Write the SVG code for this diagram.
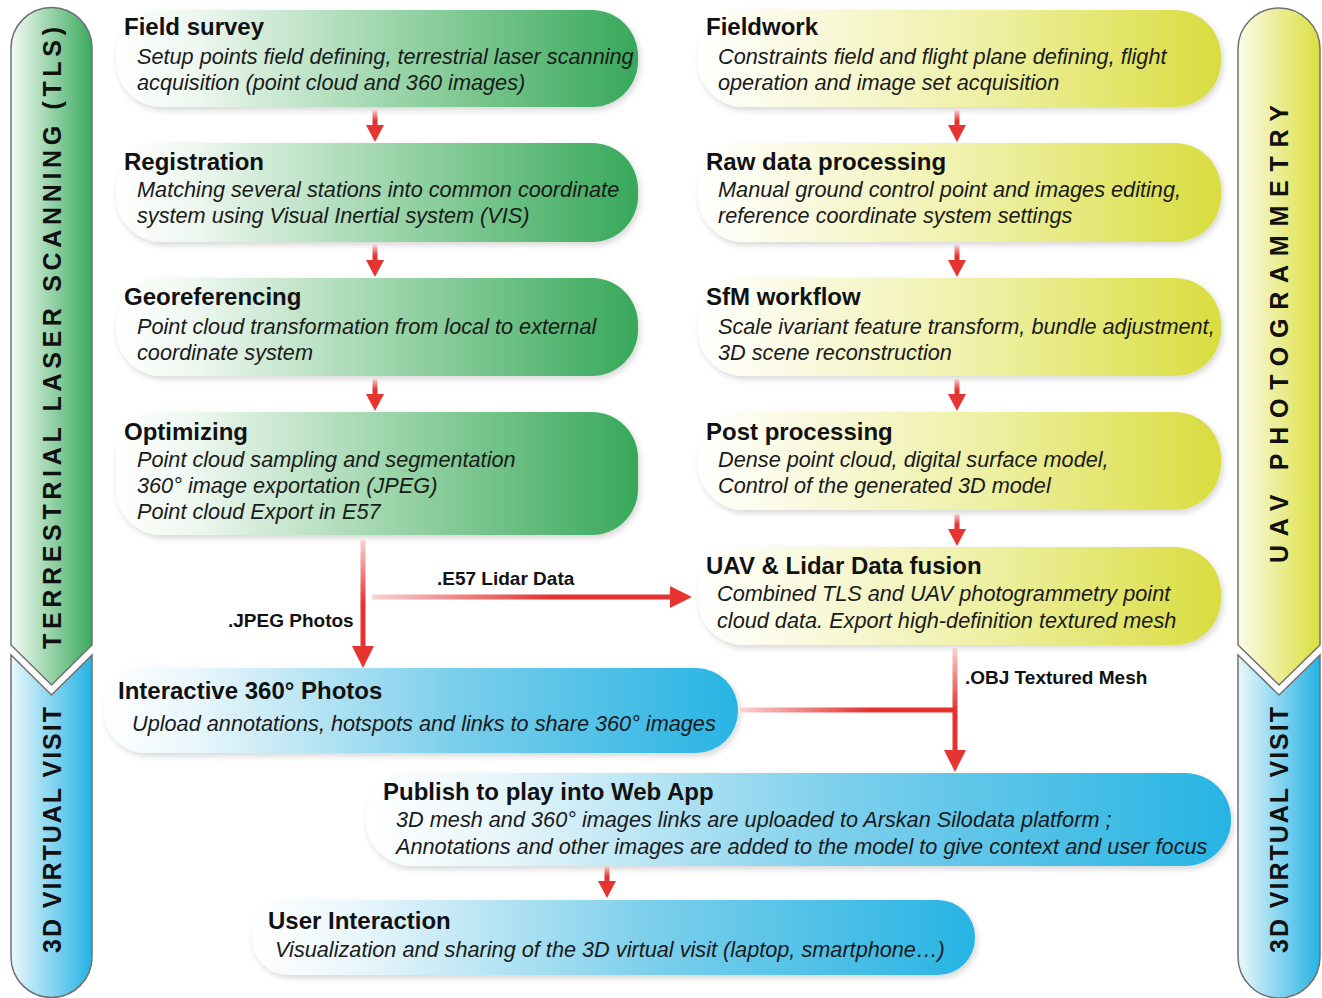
<svg xmlns="http://www.w3.org/2000/svg" width="1322" height="998" viewBox="0 0 1322 998">
<defs>
  <style>
    .title{font-family:"Liberation Sans",Arial,sans-serif;font-weight:bold;font-size:24px;fill:#111}
    .sub{font-family:"Liberation Sans",Arial,sans-serif;font-style:italic;font-size:21.7px;fill:#1a1a1a}
    .lbl{font-family:"Liberation Sans",Arial,sans-serif;font-weight:bold;font-size:19px;fill:#111}
    .bar{font-family:"Liberation Sans",Arial,sans-serif;font-weight:bold;font-size:25px;fill:#111}
    .barshape{stroke:#707070;stroke-width:1.5}
    .red{fill:#e53431}
  </style>
  <linearGradient id="gGreen" x1="0" y1="0" x2="1" y2="0">
    <stop offset="0" stop-color="#ffffff"/>
    <stop offset="0.15" stop-color="#eef7f0"/>
    <stop offset="0.55" stop-color="#97d3a6"/>
    <stop offset="1" stop-color="#37a85a"/>
  </linearGradient>
  <linearGradient id="gYellow" x1="0" y1="0" x2="1" y2="0">
    <stop offset="0" stop-color="#ffffff"/>
    <stop offset="0.15" stop-color="#fbfbe8"/>
    <stop offset="0.55" stop-color="#eef0a4"/>
    <stop offset="1" stop-color="#d9dd3e"/>
  </linearGradient>
  <linearGradient id="gBlue" x1="0" y1="0" x2="1" y2="0">
    <stop offset="0" stop-color="#ffffff"/>
    <stop offset="0.15" stop-color="#e8f6fb"/>
    <stop offset="0.55" stop-color="#7ccfeb"/>
    <stop offset="1" stop-color="#27b4e4"/>
  </linearGradient>
  <linearGradient id="bGreen" x1="0" y1="0" x2="1" y2="0">
    <stop offset="0" stop-color="#f3faf4"/>
    <stop offset="1" stop-color="#3aaa5d"/>
  </linearGradient>
  <linearGradient id="bYellow" x1="0" y1="0" x2="1" y2="0">
    <stop offset="0" stop-color="#fbfbe8"/>
    <stop offset="1" stop-color="#dcdf3f"/>
  </linearGradient>
  <linearGradient id="bBlue" x1="0" y1="0" x2="1" y2="0">
    <stop offset="0" stop-color="#eaf7fc"/>
    <stop offset="1" stop-color="#25b3e4"/>
  </linearGradient>
  <linearGradient id="vShaft" x1="0" y1="0" x2="0" y2="1">
    <stop offset="0" stop-color="#f8d2d0"/>
    <stop offset="0.6" stop-color="#e5322f"/>
    <stop offset="1" stop-color="#e5322f"/>
  </linearGradient>
  <linearGradient id="hShaft" x1="0" y1="0" x2="1" y2="0">
    <stop offset="0" stop-color="#f8d2d0"/>
    <stop offset="0.6" stop-color="#e5322f"/>
    <stop offset="1" stop-color="#e5322f"/>
  </linearGradient>
  <filter id="shadow" x="-5%" y="-10%" width="110%" height="130%">
    <feDropShadow dx="2" dy="3" stdDeviation="3" flood-color="#000" flood-opacity="0.16"/>
  </filter>
  <g id="smallArrow">
    <rect x="-2.5" y="0" width="5" height="18" fill="url(#vShaft)"/>
    <polygon points="-9,15 9,15 0,32" class="red"/>
  </g>
</defs>

<rect width="1322" height="998" fill="#ffffff"/>

<!-- Side bars -->
<g id="bar-tls">
  <path class="barshape" d="M11,48 A40.5,40.5 0 0 1 92,48 L92,645 L51.5,685 L11,645 Z" fill="url(#bGreen)"/>
  <text class="bar" text-anchor="middle" transform="translate(51.5,338) rotate(-90)" y="9" textLength="622" lengthAdjust="spacing">TERRESTRIAL LASER SCANNING (TLS)</text>
</g>
<g id="bar-visit-left">
  <path class="barshape" d="M11,655 L51.5,695 L92,655 L92,957 A40.5,40.5 0 0 1 11,957 Z" fill="url(#bBlue)"/>
  <text class="bar" text-anchor="middle" transform="translate(51.5,830) rotate(-90)" y="9" textLength="246" lengthAdjust="spacing">3D VIRTUAL VISIT</text>
</g>
<g id="bar-uav">
  <path class="barshape" d="M1238,49 A41,41 0 0 1 1320,49 L1320,645 L1279,685 L1238,645 Z" fill="url(#bYellow)"/>
  <text class="bar" text-anchor="middle" transform="translate(1279,334) rotate(-90)" y="9" textLength="458" lengthAdjust="spacing">UAV PHOTOGRAMMETRY</text>
</g>
<g id="bar-visit-right">
  <path class="barshape" d="M1238,655 L1279,695 L1320,655 L1320,957 A41,41 0 0 1 1238,957 Z" fill="url(#bBlue)"/>
  <text class="bar" text-anchor="middle" transform="translate(1279,830) rotate(-90)" y="9" textLength="246" lengthAdjust="spacing">3D VIRTUAL VISIT</text>
</g>

<!-- Left column -->
<g id="field-survey">
  <rect x="116" y="10" width="522" height="97" rx="46" fill="url(#gGreen)" filter="url(#shadow)"/>
  <text class="title" x="124" y="35">Field survey</text>
  <text class="sub" x="137" y="64">Setup points field defining, terrestrial laser scanning</text>
  <text class="sub" x="137" y="90">acquisition (point cloud and 360 images)</text>
</g>
<g id="registration">
  <rect x="116" y="143" width="522" height="99" rx="46" fill="url(#gGreen)" filter="url(#shadow)"/>
  <text class="title" x="124" y="170">Registration</text>
  <text class="sub" x="137" y="197">Matching several stations into common coordinate</text>
  <text class="sub" x="137" y="223">system using Visual Inertial system (VIS)</text>
</g>
<g id="georeferencing">
  <rect x="116" y="278" width="522" height="98" rx="46" fill="url(#gGreen)" filter="url(#shadow)"/>
  <text class="title" x="124" y="305">Georeferencing</text>
  <text class="sub" x="137" y="334">Point cloud transformation from local to external</text>
  <text class="sub" x="137" y="360">coordinate system</text>
</g>
<g id="optimizing">
  <rect x="116" y="412" width="522" height="123" rx="46" fill="url(#gGreen)" filter="url(#shadow)"/>
  <text class="title" x="124" y="440">Optimizing</text>
  <text class="sub" x="137" y="467">Point cloud sampling and segmentation</text>
  <text class="sub" x="137" y="493">360° image exportation (JPEG)</text>
  <text class="sub" x="137" y="519">Point cloud Export in E57</text>
</g>

<!-- Right column -->
<g id="fieldwork">
  <rect x="698" y="10" width="523" height="97" rx="46" fill="url(#gYellow)" filter="url(#shadow)"/>
  <text class="title" x="706" y="35">Fieldwork</text>
  <text class="sub" x="718" y="64">Constraints field and flight plane defining, flight</text>
  <text class="sub" x="718" y="90">operation and image set acquisition</text>
</g>
<g id="raw-data">
  <rect x="698" y="143" width="523" height="99" rx="46" fill="url(#gYellow)" filter="url(#shadow)"/>
  <text class="title" x="706" y="170">Raw data processing</text>
  <text class="sub" x="718" y="197">Manual ground control point and images editing,</text>
  <text class="sub" x="718" y="223">reference coordinate system settings</text>
</g>
<g id="sfm">
  <rect x="698" y="278" width="523" height="98" rx="46" fill="url(#gYellow)" filter="url(#shadow)"/>
  <text class="title" x="706" y="305">SfM workflow</text>
  <text class="sub" x="718" y="334">Scale ivariant feature transform, bundle adjustment,</text>
  <text class="sub" x="718" y="360">3D scene reconstruction</text>
</g>
<g id="post-processing">
  <rect x="698" y="412" width="523" height="98" rx="46" fill="url(#gYellow)" filter="url(#shadow)"/>
  <text class="title" x="706" y="440">Post processing</text>
  <text class="sub" x="718" y="467">Dense point cloud, digital surface model,</text>
  <text class="sub" x="718" y="493">Control of the generated 3D model</text>
</g>
<g id="fusion">
  <rect x="698" y="547" width="523" height="98" rx="46" fill="url(#gYellow)" filter="url(#shadow)"/>
  <text class="title" x="706" y="574">UAV &amp; Lidar Data fusion</text>
  <text class="sub" x="717" y="601">Combined TLS and UAV photogrammetry point</text>
  <text class="sub" x="717" y="628">cloud data. Export high-definition textured mesh</text>
</g>

<!-- Blue -->
<g id="interactive-360">
  <rect x="104" y="668" width="634" height="85" rx="42" fill="url(#gBlue)" filter="url(#shadow)"/>
  <text class="title" x="118" y="699">Interactive 360° Photos</text>
  <text class="sub" x="132" y="731">Upload annotations, hotspots and links to share 360° images</text>
</g>
<g id="publish">
  <rect x="366" y="773" width="865" height="93" rx="46" fill="url(#gBlue)" filter="url(#shadow)"/>
  <text class="title" x="383" y="800">Publish to play into Web App</text>
  <text class="sub" x="396" y="827">3D mesh and 360° images links are uploaded to Arskan Silodata platform ;</text>
  <text class="sub" x="396" y="854">Annotations and other images are added to the model to give context and user focus</text>
</g>
<g id="user-interaction">
  <rect x="252" y="900" width="723" height="75" rx="37" fill="url(#gBlue)" filter="url(#shadow)"/>
  <text class="title" x="268" y="929">User Interaction</text>
  <text class="sub" x="275" y="957">Visualization and sharing of the 3D virtual visit (laptop, smartphone…)</text>
</g>

<!-- Connectors -->
<g id="connectors">
  <use href="#smallArrow" x="375" y="110"/>
  <use href="#smallArrow" x="375" y="245"/>
  <use href="#smallArrow" x="375" y="379"/>
  <use href="#smallArrow" x="957" y="110"/>
  <use href="#smallArrow" x="957" y="245"/>
  <use href="#smallArrow" x="957" y="379"/>
  <use href="#smallArrow" x="957" y="514"/>
  <use href="#smallArrow" x="607" y="866"/>

  <rect x="360.5" y="540" width="5" height="108" fill="url(#vShaft)"/>
  <polygon class="red" points="352,646 374,646 363,668"/>
  <rect x="372" y="594.5" width="300" height="5" fill="url(#hShaft)"/>
  <polygon class="red" points="670,586 670,608 692,597"/>

  <rect x="740" y="707.5" width="215" height="5" fill="url(#hShaft)"/>
  <rect x="952.5" y="648" width="5" height="104" fill="url(#vShaft)"/>
  <polygon class="red" points="944,750 966,750 955,772"/>

  <text class="lbl" x="437" y="585">.E57 Lidar Data</text>
  <text class="lbl" x="228" y="627">.JPEG Photos</text>
  <text class="lbl" x="965" y="684">.OBJ Textured Mesh</text>
</g>
</svg>
